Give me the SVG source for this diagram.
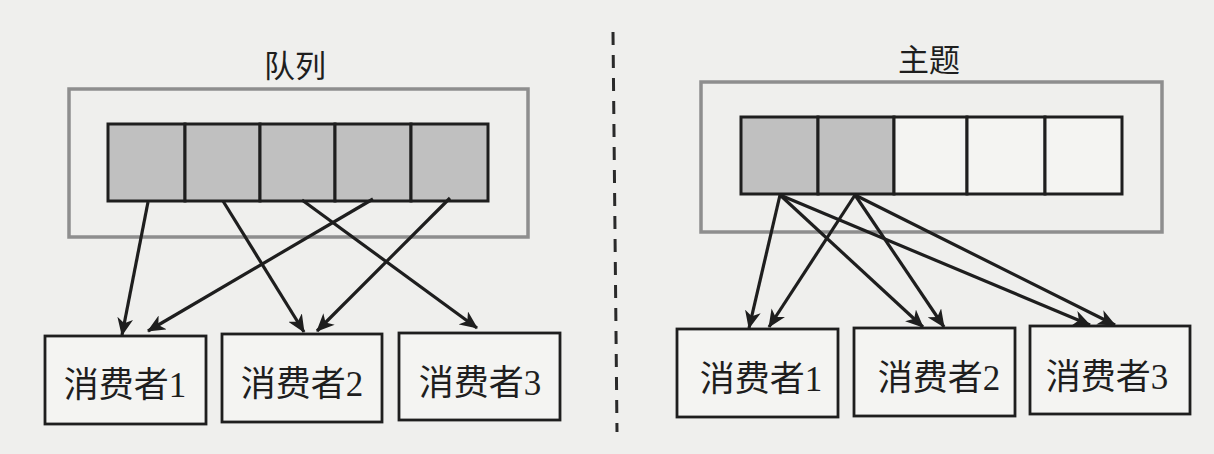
<svg xmlns="http://www.w3.org/2000/svg" width="1214" height="454" viewBox="0 0 1214 454">
<defs>
<style>
.bg{fill:#efefed}
.frame{fill:none;stroke:#8e8e8e;stroke-width:3.5}
.cell{fill:#c0c0c0;stroke:#1e1e1e;stroke-width:3}
.cell-empty{fill:#f4f4f2;stroke:#1e1e1e;stroke-width:3}
.box{fill:#f4f4f2;stroke:#1e1e1e;stroke-width:2.8}
.title{font-family:"Liberation Serif","Noto Sans CJK SC",serif;font-size:31px;fill:#1e1e1e;text-anchor:middle}
.label{font-family:"Liberation Serif","Noto Sans CJK SC",serif;font-size:35px;fill:#1e1e1e;text-anchor:middle}
.arrow{fill:none;stroke:#1e1e1e;stroke-width:3.2;marker-end:url(#head)}
.divider{fill:none;stroke:#2a2a2a;stroke-width:3;stroke-dasharray:13 10}
</style>
<marker id="head" viewBox="0 0 18 16" markerUnits="userSpaceOnUse" markerWidth="18" markerHeight="16" refX="17" refY="8" orient="auto">
<path d="M0,0 L18,8 L0,16 L5,8 z" fill="#1e1e1e"/>
</marker>
</defs>
<rect class="bg" x="0" y="0" width="1214" height="454"/>

<line id="separator" class="divider" x1="613" y1="32" x2="617" y2="432"/>

<g id="queue">
<text class="title" x="295" y="77">队列</text>
<rect class="frame" x="69" y="89" width="459" height="148"/>
<g id="queue-cells">
<rect class="cell" x="108" y="124" width="77" height="77"/>
<rect class="cell" x="185" y="124" width="75" height="77"/>
<rect class="cell" x="260" y="124" width="75" height="77"/>
<rect class="cell" x="335" y="124" width="76" height="77"/>
<rect class="cell" x="411" y="124" width="77" height="77"/>
</g>
</g>

<g id="topic">
<text class="title" x="929" y="71">主题</text>
<rect class="frame" x="701" y="82" width="461" height="150"/>
<g id="topic-cells">
<rect class="cell" x="741" y="117" width="77" height="77"/>
<rect class="cell" x="818" y="117" width="76" height="77"/>
<rect class="cell-empty" x="894" y="117" width="73" height="77"/>
<rect class="cell-empty" x="967" y="117" width="78" height="77"/>
<rect class="cell-empty" x="1045" y="117" width="77" height="77"/>
</g>
</g>

<g id="q-consumer1"><rect class="box" x="45" y="336" width="161" height="88"/><text class="label" x="125" y="397">消费者1</text></g>
<g id="q-consumer2"><rect class="box" x="222" y="334" width="160" height="88"/><text class="label" x="302" y="396">消费者2</text></g>
<g id="q-consumer3"><rect class="box" x="399" y="333" width="161" height="87"/><text class="label" x="480" y="395">消费者3</text></g>

<g id="t-consumer1"><rect class="box" x="677" y="329" width="161" height="88"/><text class="label" x="761" y="391">消费者1</text></g>
<g id="t-consumer2"><rect class="box" x="854" y="328" width="161" height="88"/><text class="label" x="939" y="390">消费者2</text></g>
<g id="t-consumer3"><rect class="box" x="1030" y="326" width="160" height="88"/><text class="label" x="1107" y="389">消费者3</text></g>

<g id="connectors">
<line class="arrow" x1="148" y1="202" x2="122" y2="335"/>
<line class="arrow" x1="223" y1="201" x2="304" y2="332"/>
<line class="arrow" x1="302" y1="200" x2="477" y2="328"/>
<line class="arrow" x1="373" y1="199" x2="148" y2="331"/>
<line class="arrow" x1="450" y1="198" x2="317" y2="331"/>

<line class="arrow" x1="780" y1="195" x2="749" y2="328"/>
<line class="arrow" x1="780" y1="195" x2="923" y2="327"/>
<line class="arrow" x1="780" y1="195" x2="1090" y2="325"/>
<line class="arrow" x1="855" y1="195" x2="769" y2="327"/>
<line class="arrow" x1="855" y1="195" x2="944" y2="327"/>
<line class="arrow" x1="855" y1="195" x2="1115" y2="325"/>
</g>
</svg>
